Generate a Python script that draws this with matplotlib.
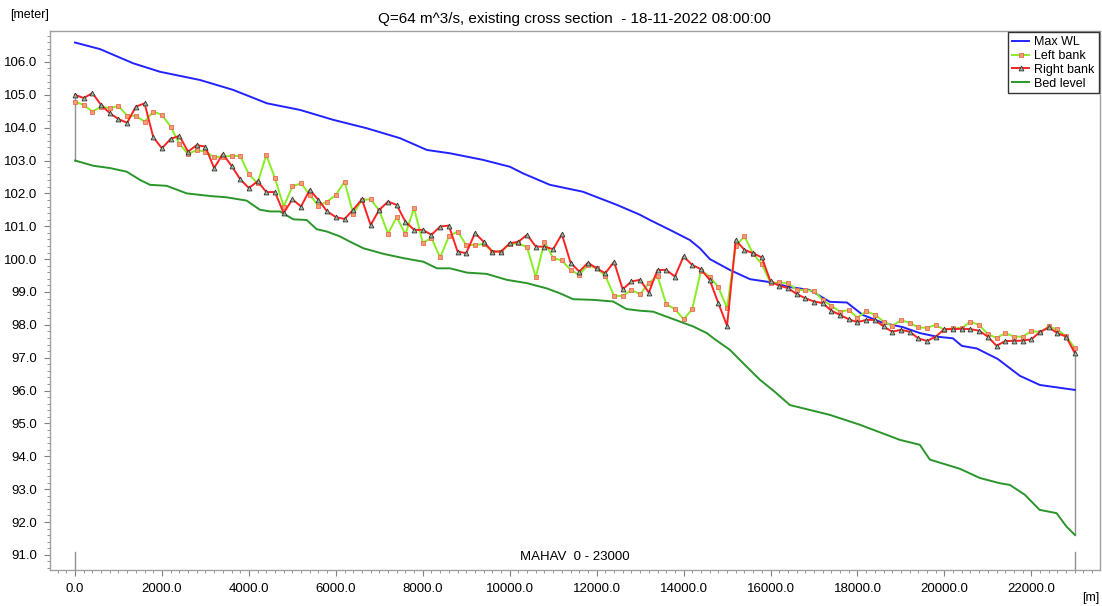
import numpy as np
import matplotlib
matplotlib.use("Agg")
import matplotlib.pyplot as plt
from matplotlib.ticker import MultipleLocator, FormatStrFormatter

plt.rcParams['font.family'] = ['Liberation Sans', 'DejaVu Sans']

# bank levels every 200 m along the branch
chainage = np.arange(0, 23001, 200)

left_bank = [104.79, 104.69, 104.49, 104.64, 104.59, 104.66, 104.36, 104.36, 104.18, 104.49,
             104.39, 104.03, 103.51, 103.20, 103.32, 103.27, 103.10, 103.12, 103.14, 103.14,
             102.58, 102.31, 103.17, 102.46, 101.60, 102.21, 102.31, 101.95, 101.62, 101.75,
             101.95, 102.36, 101.38, 101.80, 101.82, 101.48, 100.77, 101.28, 100.76, 101.55,
             100.50, 100.64, 100.05, 100.69, 100.84, 100.43, 100.43, 100.46, 100.23, 100.23,
             100.46, 100.48, 100.36, 99.45, 100.53, 100.03, 99.96, 99.67, 99.52, 99.82,
             99.72, 99.49, 98.88, 98.88, 99.06, 98.93, 99.27, 99.49, 98.63, 98.48,
             98.17, 98.48, 99.65, 99.47, 99.15, 98.51, 100.40, 100.69, 100.16, 99.85,
             99.27, 99.29, 99.27, 99.07, 99.05, 99.04, 98.75, 98.58, 98.40, 98.45,
             98.22, 98.41, 98.31, 98.10, 97.97, 98.14, 98.06, 97.92, 97.91, 98.00,
             97.85, 97.90, 97.90, 98.10, 97.99, 97.72, 97.60, 97.75, 97.64, 97.64,
             97.81, 97.78, 97.95, 97.86, 97.65, 97.29]

right_bank = [105.00, 104.90, 105.05, 104.69, 104.44, 104.26, 104.15, 104.64, 104.74, 103.71,
              103.37, 103.66, 103.75, 103.27, 103.47, 103.42, 102.77, 103.20, 102.84, 102.43,
              102.16, 102.37, 102.04, 102.04, 101.40, 101.82, 101.60, 102.11, 101.80, 101.45,
              101.28, 101.22, 101.50, 101.82, 101.04, 101.50, 101.75, 101.65, 101.14, 100.89,
              100.89, 100.74, 100.99, 101.02, 100.23, 100.18, 100.79, 100.53, 100.23, 100.23,
              100.48, 100.53, 100.74, 100.38, 100.38, 100.30, 100.76, 99.89, 99.62, 99.89,
              99.72, 99.57, 99.92, 99.08, 99.32, 99.37, 98.98, 99.67, 99.67, 99.47,
              100.08, 99.82, 99.69, 99.37, 98.66, 97.97, 100.58, 100.28, 100.18, 100.05,
              99.32, 99.19, 99.12, 98.94, 98.81, 98.71, 98.66, 98.43, 98.30, 98.17,
              98.08, 98.15, 98.15, 97.95, 97.79, 97.85, 97.79, 97.59, 97.51, 97.64,
              97.87, 97.87, 97.88, 97.87, 97.82, 97.64, 97.36, 97.51, 97.51, 97.52,
              97.56, 97.78, 97.92, 97.75, 97.64, 97.14]

# maximum water level
wl_chainage = [0, 575, 1334, 1955, 2875, 3634, 4416, 5175, 5934, 6716,
               7475, 8096, 8625, 9384, 10005, 10304, 10925, 11684, 12466, 12995,
               13225, 13685, 14145, 14375, 14605, 15065, 15525, 15985, 16445, 16905,
               17365, 17756, 18124, 18584, 19044, 19435, 19826, 20194, 20401, 20746,
               21229, 21735, 22195, 23000]
max_wl = [106.59, 106.39, 105.96, 105.70, 105.45, 105.15, 104.74, 104.54, 104.24, 103.98,
          103.68, 103.32, 103.22, 103.02, 102.81, 102.61, 102.26, 102.05, 101.65, 101.35,
          101.19, 100.89, 100.58, 100.33, 100.00, 99.67, 99.39, 99.30, 99.15, 99.06,
          98.70, 98.68, 98.30, 98.06, 97.93, 97.75, 97.64, 97.59, 97.36, 97.28,
          96.96, 96.45, 96.17, 96.02]

# river bed
bed_chainage = [0, 420, 805, 1188, 1495, 1725, 2109, 2569, 3105, 3488,
                3948, 4255, 4485, 4715, 5022, 5329, 5559, 5790, 6095, 6325,
                6634, 7095, 7555, 8015, 8324, 8625, 9009, 9470, 9930, 10390,
                10850, 11155, 11460, 11920, 12380, 12685, 12995, 13301, 13606, 13915,
                14222, 14532, 14720, 15065, 15410, 15755, 16100, 16445, 17365, 18055,
                18975, 19435, 19665, 20355, 20815, 21275, 21505, 21850, 22190, 22580,
                22810, 23000]
bed_level = [103.00, 102.84, 102.77, 102.66, 102.41, 102.26, 102.23, 102.00, 101.92, 101.88,
             101.78, 101.50, 101.45, 101.45, 101.21, 101.19, 100.91, 100.84, 100.69, 100.53,
             100.33, 100.16, 100.03, 99.92, 99.72, 99.72, 99.59, 99.55, 99.37, 99.27,
             99.11, 98.96, 98.78, 98.76, 98.71, 98.48, 98.43, 98.40, 98.25, 98.10,
             97.95, 97.75, 97.56, 97.24, 96.78, 96.33, 95.96, 95.56, 95.26, 94.96,
             94.50, 94.35, 93.90, 93.62, 93.34, 93.18, 93.13, 92.83, 92.37, 92.27,
             91.86, 91.61]

fig = plt.figure(figsize=(11.02, 6.06), dpi=100)
ax = fig.add_axes([0.0454, 0.0594, 0.9526, 0.8894])

ax.plot(wl_chainage, max_wl, color='#2222ff', lw=1.4, label='Max WL', zorder=3)
ax.plot(chainage, left_bank, color='#88ee22', lw=1.4, marker='s', ms=3,
        mfc='#f0a070', mec='#e86a50', mew=0.6, label='Left bank', zorder=4)
ax.plot(chainage, right_bank, color='#ff2222', lw=1.4, marker='^', ms=3.5,
        mfc='#9db89d', mec='#333333', mew=0.6, label='Right bank', zorder=5)
ax.plot(bed_chainage, bed_level, color='#2a962a', lw=1.4, label='Bed level', zorder=3)

# branch end markers
ax.plot([0, 0], [bed_level[0], right_bank[0]], color='#909090', lw=1, zorder=2)
ax.plot([23000, 23000], [bed_level[-1], right_bank[-1]], color='#909090', lw=1, zorder=2)
ax.plot([0, 0], [90.54, 91.1], color='#909090', lw=1)
ax.plot([23000, 23000], [90.54, 91.1], color='#909090', lw=1)
ax.text(11500, 90.93, 'MAHAV  0 - 23000', ha='center', va='center', fontsize=9.5)

ax.set_xlim(-575, 23575)
ax.set_ylim(90.54, 106.94)
ax.xaxis.set_major_locator(MultipleLocator(2000))
ax.xaxis.set_minor_locator(MultipleLocator(200))
ax.yaxis.set_major_locator(MultipleLocator(1))
ax.yaxis.set_minor_locator(MultipleLocator(0.2))
ax.xaxis.set_major_formatter(FormatStrFormatter('%.1f'))
ax.yaxis.set_major_formatter(FormatStrFormatter('%.1f'))
ax.tick_params(which='major', direction='out', length=4, color='#808080', labelsize=9.5, pad=5)
ax.tick_params(which='minor', direction='out', length=2, color='#808080')
for s in ax.spines.values():
    s.set_color('#a0a0a0')
    s.set_linewidth(1)

ax.set_title('Q=64 m^3/s, existing cross section  - 18-11-2022 08:00:00', fontsize=11, pad=6)
fig.text(0.009, 0.975, '[meter]', fontsize=9, ha='left', va='center')
fig.text(0.998, 0.013, '[m]', fontsize=9, ha='right', va='center')

leg = ax.legend(loc='upper right', fontsize=9, frameon=True, fancybox=False,
                handlelength=1.4, handletextpad=0.4, borderpad=0.3, labelspacing=0.15,
                borderaxespad=0.1)
leg.get_frame().set_edgecolor('black')
leg.get_frame().set_linewidth(1)

fig.savefig('out.png', dpi=100)
